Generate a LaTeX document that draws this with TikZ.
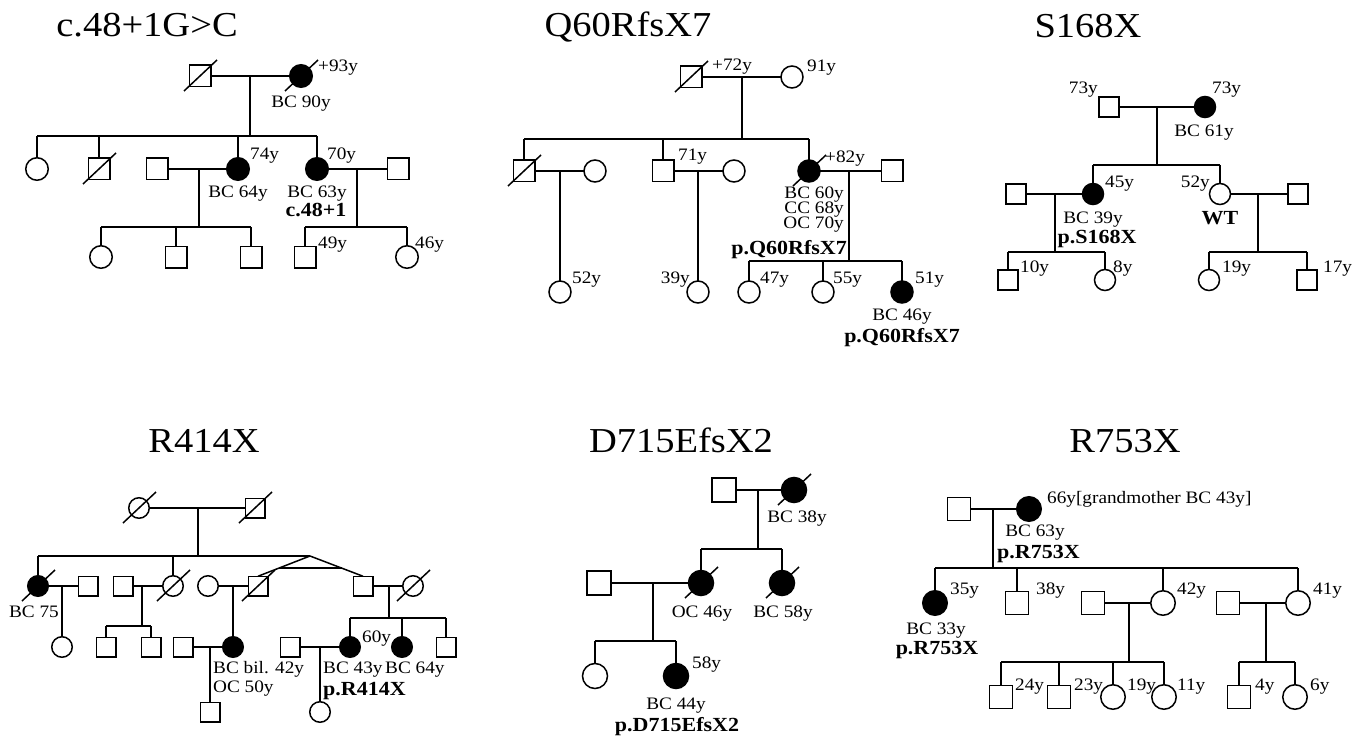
\documentclass[tikz,border=0pt]{standalone}
\usepackage{fontspec}
\setmainfont{Liberation Serif}[FakeStretch=1.1]
\usetikzlibrary{calc}
\tikzset{
  sym/.style={draw, line width=1.5pt, inner sep=0pt, outer sep=0pt},
  aff/.style={fill=black},
  ln/.style={line width=1.5pt},
  lab/.style={inner sep=0pt, font=\fontsize{17.5}{17.5}\selectfont},
  mut/.style={inner sep=0pt, font=\fontsize{20}{20}\selectfont\bfseries},
  ttl/.style={inner sep=0pt, anchor=base, font=\fontsize{35}{35}\selectfont},
}
% diagonal stroke marking a deceased individual
\newcommand\deadmark[1]{\draw[ln] ([shift={(-16,15)}]#1.center) -- ([shift={(17,-16)}]#1.center);}
\begin{document}
\begin{tikzpicture}[x=1pt,y=-1pt]
\useasboundingbox (0,0) rectangle (1369,741);

% ---------------- c.48+1G>C ----------------
\begin{scope}[sq/.style={sym,rectangle,minimum size=21.5pt}, ci/.style={sym,circle,minimum size=22.5pt}]
\node[ttl] (At) at (147,37) {c.48+1G>C};
\node[sq] (A1) at (200,76) {};
\node[ci,aff] (A2) at (301,76) {};
\deadmark{A1} \deadmark{A2}
\draw[ln] (A1) -- (A2);
\coordinate (Am1) at (250,76); \coordinate (As1) at (250,136);
\draw[ln] (Am1) -- (As1);
\node[ci] (A3) at (37,169) {};
\node[sq] (A4) at (99,169) {};
\node[ci,aff] (A5) at (238,169) {};
\node[ci,aff] (A6) at (317,169) {};
\node[sq] (A7) at (157,169) {};
\node[sq] (A8) at (398,169) {};
\deadmark{A4}
\draw[ln] (A3 |- As1) -- (A6 |- As1);
\foreach \c in {A3,A4,A5,A6} \draw[ln] (\c |- As1) -- (\c);
\draw[ln] (A7) -- (A5);
\draw[ln] (A6) -- (A8);
\coordinate (Am2) at (199,169); \coordinate (As2) at (199,227);
\coordinate (Am3) at (357,169); \coordinate (As3) at (357,227);
\draw[ln] (Am2) -- (As2);
\draw[ln] (Am3) -- (As3);
\node[ci] (A9) at (101,257) {};
\node[sq] (A10) at (176,257) {};
\node[sq] (A11) at (251,257) {};
\node[sq] (A12) at (305,257) {};
\node[ci] (A13) at (407,257) {};
\draw[ln] (A9 |- As2) -- (A11 |- As2);
\foreach \c in {A9,A10,A11} \draw[ln] (\c |- As2) -- (\c);
\draw[ln] (A12 |- As3) -- (A13 |- As3);
\foreach \c in {A12,A13} \draw[ln] (\c |- As3) -- (\c);
\node[lab,anchor=base west] (Al1) at (318,72) {+93y};
\node[lab,anchor=base] (Al2) at (301,108) {BC 90y};
\node[lab,anchor=base west] (Al3) at (250,160) {74y};
\node[lab,anchor=base west] (Al4) at (327,160) {70y};
\node[lab,anchor=base] (Al5) at (238,197) {BC 64y};
\node[lab,anchor=base] (Al6) at (317,197) {BC 63y};
\node[mut,anchor=base] (Al7) at (316,217) {c.48+1};
\node[lab,anchor=base west] (Al8) at (318,248) {49y};
\node[lab,anchor=base west] (Al9) at (415,248) {46y};
\end{scope}

% ---------------- Q60RfsX7 ----------------
\begin{scope}[sq/.style={sym,rectangle,minimum size=21.5pt}, ci/.style={sym,circle,minimum size=22pt}]
\node[ttl] (Bt) at (628,37) {Q60RfsX7};
\node[sq] (B1) at (691,77) {};
\node[ci] (B2) at (792,77) {};
\deadmark{B1}
\draw[ln] (B1) -- (B2);
\coordinate (Bm1) at (742,77); \coordinate (Bs1) at (742,139);
\draw[ln] (Bm1) -- (Bs1);
\node[sq] (B3) at (524,171) {};
\node[ci] (B4) at (595,171) {};
\node[sq] (B5) at (663,171) {};
\node[ci] (B6) at (734,171) {};
\node[ci,aff] (B7) at (809,171) {};
\node[sq] (B8) at (892,171) {};
\deadmark{B3} \deadmark{B7}
\draw[ln] (B3 |- Bs1) -- (B7 |- Bs1);
\foreach \c in {B3,B5,B7} \draw[ln] (\c |- Bs1) -- (\c);
\draw[ln] (B3) -- (B4);
\draw[ln] (B5) -- (B6);
\draw[ln] (B7) -- (B8);
\coordinate (Bm2) at (560,171);
\coordinate (Bm3) at (698,171);
\coordinate (Bm4) at (849,171); \coordinate (Bs4) at (849,261);
\node[ci] (B9) at (560,292) {};
\node[ci] (B10) at (698,292) {};
\draw[ln] (Bm2) -- (B9);
\draw[ln] (Bm3) -- (B10);
\draw[ln] (Bm4) -- (Bs4);
\node[ci] (B11) at (749,292) {};
\node[ci] (B12) at (823,292) {};
\node[ci,aff] (B13) at (902,292) {};
\draw[ln] (B11 |- Bs4) -- (B13 |- Bs4);
\foreach \c in {B11,B12,B13} \draw[ln] (\c |- Bs4) -- (\c);
\node[lab,anchor=base west] (Bl1) at (712,71) {+72y};
\node[lab,anchor=base west] (Bl2) at (807,72) {91y};
\node[lab,anchor=base west] (Bl3) at (678,161) {71y};
\node[lab,anchor=base west] (Bl4) at (825,163) {+82y};
\node[lab,anchor=base east] (Bl5) at (844,198) {BC 60y};
\node[lab,anchor=base east] (Bl6) at (844,213) {CC 68y};
\node[lab,anchor=base east] (Bl7) at (844,229) {OC 70y};
\node[mut,anchor=base east] (Bl8) at (847,254) {p.Q60RfsX7};
\node[lab,anchor=base west] (Bl9) at (572,283) {52y};
\node[lab,anchor=base east] (Bl10) at (690,283) {39y};
\node[lab,anchor=base west] (Bl11) at (760,283) {47y};
\node[lab,anchor=base west] (Bl12) at (833,283) {55y};
\node[lab,anchor=base west] (Bl13) at (915,283) {51y};
\node[lab,anchor=base] (Bl14) at (902,320) {BC 46y};
\node[mut,anchor=base] (Bl15) at (902,342) {p.Q60RfsX7};
\end{scope}

% ---------------- S168X ----------------
\begin{scope}[sq/.style={sym,rectangle,minimum size=20pt}, ci/.style={sym,circle,minimum size=21pt}]
\node[ttl] (Ct) at (1088,38) {S168X};
\node[sq] (C1) at (1109,107) {};
\node[ci,aff] (C2) at (1205,107) {};
\draw[ln] (C1) -- (C2);
\coordinate (Cm1) at (1157,107); \coordinate (Cs1) at (1157,165);
\draw[ln] (Cm1) -- (Cs1);
\node[ci,aff] (C3) at (1093,194) {};
\node[ci] (C4) at (1220,194) {};
\node[sq] (C5) at (1016,194) {};
\node[sq] (C6) at (1298,194) {};
\draw[ln] (C3 |- Cs1) -- (C4 |- Cs1);
\foreach \c in {C3,C4} \draw[ln] (\c |- Cs1) -- (\c);
\draw[ln] (C5) -- (C3);
\draw[ln] (C4) -- (C6);
\coordinate (Cm2) at (1055,194); \coordinate (Cs2) at (1055,252);
\coordinate (Cm3) at (1258,194); \coordinate (Cs3) at (1258,252);
\draw[ln] (Cm2) -- (Cs2);
\draw[ln] (Cm3) -- (Cs3);
\node[sq] (C7) at (1008,280) {};
\node[ci] (C8) at (1105,280) {};
\node[ci] (C9) at (1209,280) {};
\node[sq] (C10) at (1307,280) {};
\draw[ln] (C7 |- Cs2) -- (C8 |- Cs2);
\foreach \c in {C7,C8} \draw[ln] (\c |- Cs2) -- (\c);
\draw[ln] (C9 |- Cs3) -- (C10 |- Cs3);
\foreach \c in {C9,C10} \draw[ln] (\c |- Cs3) -- (\c);
\node[lab,anchor=base east] (Cl1) at (1098,94) {73y};
\node[lab,anchor=base west] (Cl2) at (1212,94) {73y};
\node[lab,anchor=base] (Cl3) at (1204,137) {BC 61y};
\node[lab,anchor=base west] (Cl4) at (1105,188) {45y};
\node[lab,anchor=base east] (Cl5) at (1210,188) {52y};
\node[lab,anchor=base] (Cl6) at (1093,223) {BC 39y};
\node[mut,anchor=base] (Cl7) at (1097,243) {p.S168X};
\node[mut,anchor=base] (Cl8) at (1220,225) {WT};
\node[lab,anchor=base west] (Cl9) at (1020,272) {10y};
\node[lab,anchor=base west] (Cl10) at (1113,272) {8y};
\node[lab,anchor=base west] (Cl11) at (1222,272) {19y};
\node[lab,anchor=base west] (Cl12) at (1323,272) {17y};
\end{scope}

% ---------------- R414X ----------------
\begin{scope}[sq/.style={sym,rectangle,minimum size=19.5pt}, ci/.style={sym,circle,minimum size=20.5pt}]
\node[ttl] (Dt) at (204,452) {R414X};
\node[ci] (D1) at (139,508) {};
\node[sq] (D2) at (255,508) {};
\deadmark{D1} \deadmark{D2}
\draw[ln] (D1) -- (D2);
\coordinate (Dm1) at (198,508); \coordinate (Ds1) at (198,556);
\draw[ln] (Dm1) -- (Ds1);
\node[ci,aff] (D3) at (38,586) {};
\node[sq] (D4) at (88,586) {};
\node[sq] (D5) at (123,586) {};
\node[ci] (D6) at (173,586) {};
\node[ci] (D7) at (208,586) {};
\node[sq] (D8) at (258,586) {};
\node[sq] (D9) at (363,586) {};
\node[ci] (D10) at (413,586) {};
\deadmark{D3} \deadmark{D6} \deadmark{D8} \deadmark{D10}
\coordinate (Dap) at (310,556);
\draw[ln] (D3 |- Ds1) -- (Dap);
\foreach \c in {D3,D6} \draw[ln] (\c |- Ds1) -- (\c);
% monozygotic twins
\draw[ln] (Dap) -- (D8.north);
\draw[ln] (Dap) -- (D9.north);
\draw[ln] ($(Dap)!0.6!(D8.north)$) -- ($(Dap)!0.6!(D9.north)$);
\draw[ln] (D3) -- (D4);
\draw[ln] (D5) -- (D6);
\draw[ln] (D7) -- (D8);
\draw[ln] (D9) -- (D10);
\coordinate (Dm2) at (62,586);
\coordinate (Dm3) at (142,586); \coordinate (Ds3) at (142,626);
\coordinate (Dm4) at (233,586);
\coordinate (Dm5) at (389,586); \coordinate (Ds5) at (389,618);
\node[ci] (D11) at (62,647) {};
\node[sq] (D12) at (106,647) {};
\node[sq] (D13) at (151,647) {};
\node[ci,aff] (D14) at (233,647) {};
\node[ci,aff] (D15) at (350,647) {};
\node[ci,aff] (D16) at (402,647) {};
\node[sq] (D17) at (446,647) {};
\node[sq] (D18) at (183,647) {};
\node[sq] (D20) at (290,647) {};
\draw[ln] (Dm2) -- (D11);
\draw[ln] (Dm3) -- (Ds3);
\draw[ln] (D12 |- Ds3) -- (D13 |- Ds3);
\foreach \c in {D12,D13} \draw[ln] (\c |- Ds3) -- (\c);
\draw[ln] (Dm4) -- (D14);
\draw[ln] (Dm5) -- (Ds5);
\draw[ln] (D15 |- Ds5) -- (D17 |- Ds5);
\foreach \c in {D15,D16,D17} \draw[ln] (\c |- Ds5) -- (\c);
\draw[ln] (D18) -- (D14);
\draw[ln] (D20) -- (D15);
\coordinate (Dm6) at (210,647);
\coordinate (Dm7) at (320,647);
\node[sq] (D19) at (210,712) {};
\node[ci] (D21) at (320,712) {};
\draw[ln] (Dm6) -- (D19);
\draw[ln] (Dm7) -- (D21);
\node[lab,anchor=base] (Dl1) at (34,617) {BC 75};
\node[lab,anchor=base west] (Dl2) at (362,642) {60y};
\node[lab,anchor=base west] (Dl3) at (213,673) {BC bil. 42y};
\node[lab,anchor=base west] (Dl4) at (213,692) {OC 50y};
\node[lab,anchor=base west] (Dl5) at (323,673) {BC 43y};
\node[lab,anchor=base west] (Dl6) at (385,673) {BC 64y};
\node[mut,anchor=base west] (Dl7) at (323,695) {p.R414X};
\end{scope}

% ---------------- D715EfsX2 ----------------
\begin{scope}[sq/.style={sym,rectangle,minimum size=24pt}, ci/.style={sym,circle,minimum size=25pt}]
\node[ttl] (Et) at (681,452) {D715EfsX2};
\node[sq] (E1) at (724,490) {};
\node[ci,aff] (E2) at (794,490) {};
\deadmark{E2}
\draw[ln] (E1) -- (E2);
\coordinate (Em1) at (758,490); \coordinate (Es1) at (758,549);
\draw[ln] (Em1) -- (Es1);
\node[ci,aff] (E3) at (701,583) {};
\node[ci,aff] (E4) at (782,583) {};
\node[sq] (E5) at (599,583) {};
\deadmark{E3} \deadmark{E4}
\draw[ln] (E3 |- Es1) -- (E4 |- Es1);
\foreach \c in {E3,E4} \draw[ln] (\c |- Es1) -- (\c);
\draw[ln] (E5) -- (E3);
\coordinate (Em2) at (653,583); \coordinate (Es2) at (653,641);
\draw[ln] (Em2) -- (Es2);
\node[ci] (E6) at (595,676) {};
\node[ci,aff] (E7) at (676,676) {};
\draw[ln] (E6 |- Es2) -- (E7 |- Es2);
\foreach \c in {E6,E7} \draw[ln] (\c |- Es2) -- (\c);
\node[lab,anchor=base] (El1) at (797,522) {BC 38y};
\node[lab,anchor=base] (El2) at (702,617) {OC 46y};
\node[lab,anchor=base] (El3) at (783,617) {BC 58y};
\node[lab,anchor=base west] (El4) at (692,668) {58y};
\node[lab,anchor=base] (El5) at (676,709) {BC 44y};
\node[mut,anchor=base] (El6) at (677,731) {p.D715EfsX2};
\end{scope}

% ---------------- R753X ----------------
\begin{scope}[sq/.style={sym,rectangle,minimum size=23pt}, ci/.style={sym,circle,minimum size=24.5pt}]
\node[ttl] (Ft) at (1125,452) {R753X};
\node[sq] (F1) at (959,509) {};
\node[ci,aff] (F2) at (1029,509) {};
\draw[ln] (F1) -- (F2);
\coordinate (Fm1) at (993,509); \coordinate (Fs1) at (993,568);
\draw[ln] (Fm1) -- (Fs1);
\node[ci,aff] (F3) at (935,603) {};
\node[sq] (F4) at (1017,603) {};
\node[ci] (F5) at (1163,603) {};
\node[ci] (F6) at (1298,603) {};
\node[sq] (F7) at (1093,603) {};
\node[sq] (F8) at (1228,603) {};
\draw[ln] (F3 |- Fs1) -- (F6 |- Fs1);
\foreach \c in {F3,F4,F5,F6} \draw[ln] (\c |- Fs1) -- (\c);
\draw[ln] (F7) -- (F5);
\draw[ln] (F8) -- (F6);
\coordinate (Fm2) at (1129,603); \coordinate (Fs2) at (1129,662);
\coordinate (Fm3) at (1266,603); \coordinate (Fs3) at (1266,662);
\draw[ln] (Fm2) -- (Fs2);
\draw[ln] (Fm3) -- (Fs3);
\node[sq] (F9) at (1001,697) {};
\node[sq] (F10) at (1059,697) {};
\node[ci] (F11) at (1113,697) {};
\node[ci] (F12) at (1164,697) {};
\node[sq] (F13) at (1239,697) {};
\node[ci] (F14) at (1295,697) {};
\draw[ln] (F9 |- Fs2) -- (F12 |- Fs2);
\foreach \c in {F9,F10,F11,F12} \draw[ln] (\c |- Fs2) -- (\c);
\draw[ln] (F13 |- Fs3) -- (F14 |- Fs3);
\foreach \c in {F13,F14} \draw[ln] (\c |- Fs3) -- (\c);
\node[lab,anchor=base west] (Fl1) at (1047,503) {66y[grandmother BC 43y]};
\node[lab,anchor=base] (Fl2) at (1035,536) {BC 63y};
\node[mut,anchor=base west] (Fl3) at (997,558) {p.R753X};
\node[lab,anchor=base west] (Fl4) at (950,594) {35y};
\node[lab,anchor=base west] (Fl5) at (1036,594) {38y};
\node[lab,anchor=base west] (Fl6) at (1177,594) {42y};
\node[lab,anchor=base west] (Fl7) at (1313,594) {41y};
\node[lab,anchor=base] (Fl8) at (936,634) {BC 33y};
\node[mut,anchor=base] (Fl9) at (937,654) {p.R753X};
\node[lab,anchor=base west] (Fl10) at (1015,690) {24y};
\node[lab,anchor=base west] (Fl11) at (1074,690) {23y};
\node[lab,anchor=base west] (Fl12) at (1127,690) {19y};
\node[lab,anchor=base west] (Fl13) at (1177,690) {11y};
\node[lab,anchor=base west] (Fl14) at (1255,690) {4y};
\node[lab,anchor=base west] (Fl15) at (1310,690) {6y};
\end{scope}
\end{tikzpicture}
\end{document}
